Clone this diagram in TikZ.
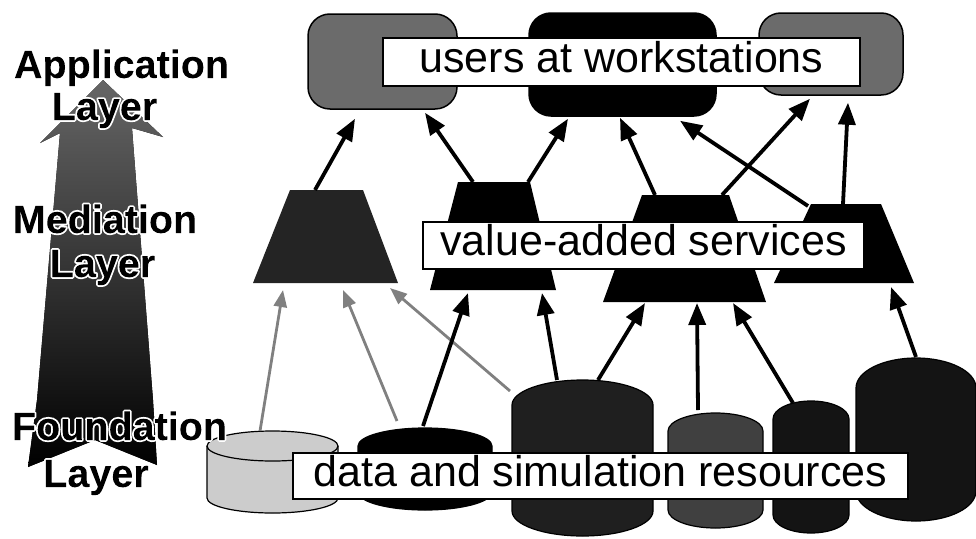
\documentclass[tikz,border=0pt]{standalone}
\usepackage{fontspec}
\setmainfont{Liberation Sans}
\usetikzlibrary{arrows.meta,calc}
\definecolor{boxgray}{gray}{0.42}
\definecolor{trapgray}{gray}{0.14}
\newcommand\lblfont{\fontsize{43pt}{50pt}\selectfont}
\newcommand\layerfont{\fontsize{39.5pt}{45pt}\selectfont\bfseries}
% single-instance text with a white outline: stroke white + clip to glyphs, then fill black
\newcommand\halotext[1]{\special{pdf:literal q 1 1 1 RG 3.6 w 1 j 5 Tr}#1\special{pdf:literal 0 g -5000 -5000 10000 10000 re f Q}}
\newcommand\drum[6]{%
  \draw[line width=1.2pt, fill=#6] (#1-#4,#2) arc[start angle=180,end angle=0,x radius=#4pt,y radius=#5pt]
    -- (#1+#4,#3) arc[start angle=0,end angle=-180,x radius=#4pt,y radius=#5pt] -- cycle;}
\begin{document}
\begin{tikzpicture}[x=1pt,y=-1pt,
  ubox/.style={draw=black, line width=1.5pt, rounded corners=22pt, inner sep=0pt},
  lbl/.style={draw=black, fill=white, line width=1.5pt, inner sep=0pt, text height=24pt, text depth=4pt, font=\lblfont},
  layer/.style={anchor=base, inner sep=0pt, font=\layerfont},
  flow/.style={draw=black, line width=3.8pt, -{Triangle[length=22pt,width=17pt]}},
  flowgray/.style={draw=black!50, line width=2.8pt, -{Triangle[length=17pt,width=13pt]}}]
\useasboundingbox (0,0) rectangle (976,538);

% big layer arrow
\fill[top color=black!60, bottom color=black] (103,80) -- (163,137) -- (132,128) -- (153,400) -- (157,465)
  -- (95,440) -- (28,467) -- (37,400) -- (60,133) -- (40,143) -- cycle;

% top boxes
\node[ubox, fill=boxgray, minimum width=149pt, minimum height=95pt] (L) at (382.5,61.5) {};
\node[ubox, fill=black, minimum width=187pt, minimum height=103pt] (M) at (622.5,64.5) {};
\node[ubox, fill=boxgray, minimum width=144pt, minimum height=82pt] (R) at (831,54) {};

% trapezoids (value-added services)
\fill[trapgray] (290,190) -- (363,190) -- (398,283) -- (253,283) -- cycle;
\fill[black] (458,182) -- (530,182) -- (556,290) -- (430,290) -- cycle;
\fill[black] (642,195) -- (729,195) -- (766,302) -- (603,302) -- cycle;
\fill[black] (811,204) -- (881,204) -- (914,283) -- (774,283) -- cycle;
\coordinate (T1n) at (325.5,190); \coordinate (T1s) at (325.5,283);
\coordinate (T2n) at (493,182);   \coordinate (T2s) at (493,290);
\coordinate (T3n) at (684.5,195); \coordinate (T3s) at (684.5,302);
\coordinate (T4n) at (844,204);   \coordinate (T4s) at (844,283);

% cylinders
\drum{272.5}{446}{498}{65.5}{15}{black!20}
\draw[line width=1.2pt] (207,446) arc[start angle=180,end angle=360,x radius=65.5pt,y radius=15pt];
\drum{425}{446}{492}{67}{18}{black}
\drum{582.5}{405}{511}{70.5}{25}{black!88}
\drum{715.5}{431}{510}{47.5}{18}{black!75}
\drum{811}{419}{515}{38}{18}{black!92}
\drum{916}{388}{491}{60}{30}{black!92}
\coordinate (C1) at (272.5,431);
\coordinate (C2) at (425,428);
\coordinate (C3) at (582.5,380);
\coordinate (C4) at (715.5,413);
\coordinate (C5) at (811,401);
\coordinate (C6) at (916,358);

% mediation -> application
\draw[flow] ($(T1n)+(-10.5,0)$) -- ($(L.south)+(-27.5,9)$);
\draw[flow] ($(T2n)+(-20,0)$) -- ($(L.south)+(42.5,3)$);
\draw[flow] ($(T2n)+(35,0)$) -- ($(M.south)+(-54.5,2)$);
\draw[flow] ($(T3n)+(-29.5,0)$) -- ($(M.south)+(-2.5,1)$);
\draw[flow] ($(T4n)+(-36,2)$) -- ($(M.south)+(57.5,4)$);
\draw[flow] ($(T3n)+(37.5,0)$) -- ($(R.south)+(-21,3)$);
\draw[flow] ($(T4n)+(-1,0)$) -- ($(R.south)+(17,7)$);

% foundation -> mediation
\draw[flowgray] ($(C1)+(-12.5,0)$) -- ($(T1s)+(-42.5,7)$);
\draw[flowgray] ($(C2)+(-28,-7)$) -- ($(T1s)+(17.5,7)$);
\draw[flowgray] ($(C3)+(-72.5,11)$) -- ($(T1s)+(64.5,5)$);
\draw[flow] ($(C2)+(-2,-2)$) -- ($(T2s)+(-25,3)$);
\draw[flow] ($(C3)+(-25.5,0)$) -- ($(T2s)+(49,3)$);
\draw[flow] ($(C3)+(15.5,0)$) -- ($(T3s)+(-39.5,1)$);
\draw[flow] ($(C4)+(-17.5,-3)$) -- ($(T3s)+(12.5,1)$);
\draw[flow] ($(C5)+(-18,2)$) -- ($(T3s)+(48.5,1)$);
\draw[flow] ($(C6)+(0,-1)$) -- ($(T4s)+(47,4)$);

% labels
\node[lbl, minimum width=477pt, minimum height=48pt] (users) at (621.5,62) {users at workstations};
\node[lbl, minimum width=441pt, minimum height=47pt] (services) at (643.5,245.5) {value-added services};
\node[lbl, minimum width=615pt, minimum height=46pt] (data) at (600.5,476) {data and simulation resources};

% layer names
\node[layer] (app1) at (121.5,78) {\halotext{Application}};
\node[layer] (app2) at (104.5,120) {\halotext{Layer}};
\node[layer] (med1) at (105,233) {\halotext{Mediation}};
\node[layer] (med2) at (102.5,277) {\halotext{Layer}};
\node[layer] (fou1) at (119.5,440) {\halotext{Foundation}};
\node[layer] (fou2) at (96,487) {\halotext{Layer}};
\end{tikzpicture}
\end{document}
